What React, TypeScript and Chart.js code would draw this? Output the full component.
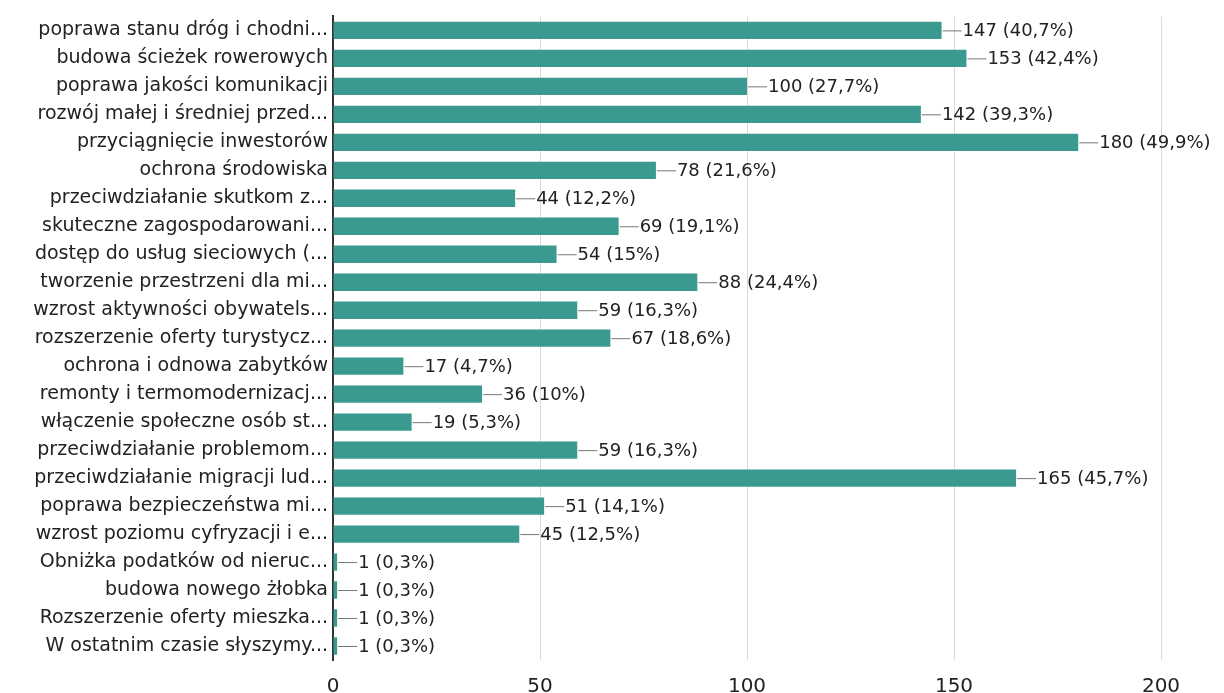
import React, { useEffect, useRef } from "react";
import { Chart, registerables } from "chart.js";

Chart.register(...registerables);

const categories: string[] = [
  "poprawa stanu dróg i chodni...",
  "budowa ścieżek rowerowych",
  "poprawa jakości komunikacji",
  "rozwój małej i średniej przed...",
  "przyciągnięcie inwestorów",
  "ochrona środowiska",
  "przeciwdziałanie skutkom z...",
  "skuteczne zagospodarowani...",
  "dostęp do usług sieciowych (...",
  "tworzenie przestrzeni dla mi...",
  "wzrost aktywności obywatels...",
  "rozszerzenie oferty turystycz...",
  "ochrona i odnowa zabytków",
  "remonty i termomodernizacj...",
  "włączenie społeczne osób st...",
  "przeciwdziałanie problemom...",
  "przeciwdziałanie migracji lud...",
  "poprawa bezpieczeństwa mi...",
  "wzrost poziomu cyfryzacji i e...",
  "Obniżka podatków od nieruc...",
  "budowa nowego żłobka",
  "Rozszerzenie oferty mieszka...",
  "W ostatnim czasie słyszymy...",
];

const counts: number[] = [147, 153, 100, 142, 180, 78, 44, 69, 54, 88, 59, 67, 17, 36, 19, 59, 165, 51, 45, 1, 1, 1, 1];

const percents: number[] = [40.7, 42.4, 27.7, 39.3, 49.9, 21.6, 12.2, 19.1, 15, 24.4, 16.3, 18.6, 4.7, 10, 5.3, 16.3, 45.7, 14.1, 12.5, 0.3, 0.3, 0.3, 0.3];

const xTicks: number[] = [0, 50, 100, 150, 200];

const FONT = "'DejaVu Sans', sans-serif";

const labelPlugin = {
  id: "barLabels",
  afterDatasetsDraw(chart: any) {
    const ctx = chart.ctx;
    const meta = chart.getDatasetMeta(0);
    ctx.save();
    ctx.font = `18px ${FONT}`;
    ctx.textBaseline = "middle";
    ctx.textAlign = "left";
    meta.data.forEach((bar: any, i: number) => {
      const x = bar.x;
      const y = bar.y;
      ctx.strokeStyle = "#777";
      ctx.lineWidth = 1;
      ctx.beginPath();
      ctx.moveTo(x + 1, y + 0.5);
      ctx.lineTo(x + 20, y + 0.5);
      ctx.stroke();
      ctx.fillStyle = "#222";
      const pct = String(percents[i]).replace(".", ",");
      ctx.fillText(`${counts[i]} (${pct}%)`, x + 21, y + 1);
    });
    ctx.restore();
  },
};

export default function App() {
  const ref = useRef<HTMLCanvasElement | null>(null);

  useEffect(() => {
    document.body.style.margin = "0";
    const canvas = ref.current;
    if (!canvas) return;
    const chart = new Chart(canvas, {
      type: "bar",
      data: {
        labels: categories,
        datasets: [
          {
            data: counts,
            backgroundColor: "#3a9a90",
            borderWidth: 0,
            barPercentage: 0.62,
            categoryPercentage: 1,
          },
        ],
      },
      options: {
        indexAxis: "y",
        animation: false,
        responsive: false,
        maintainAspectRatio: false,
        layout: { padding: { top: 13, right: 63, bottom: 0, left: 0 } },
        plugins: {
          legend: { display: false },
          tooltip: { enabled: false },
        },
        scales: {
          x: {
            min: 0,
            max: 200,
            afterBuildTicks: (axis: any) => {
              axis.ticks = xTicks.map((v) => ({ value: v }));
            },
            afterFit: (axis: any) => {
              axis.height = 33;
            },
            grid: {
              color: "#dadada",
              lineWidth: 1,
              drawTicks: false,
            },
            border: { display: false },
            ticks: {
              padding: 15,
              color: "#222",
              font: { family: FONT, size: 20 },
            },
          },
          y: {
            afterFit: (axis: any) => {
              axis.width = 333;
            },
            grid: { display: false, drawTicks: false },
            border: { display: true, color: "#333", width: 2 },
            ticks: {
              padding: 5,
              color: "#222",
              autoSkip: false,
              font: { family: FONT, size: 19 },
            },
          },
        },
      },
      plugins: [labelPlugin],
    });
    return () => chart.destroy();
  }, []);

  return (
    <div style={{ width: 1224, height: 693, background: "#fff" }}>
      <canvas ref={ref} width={1224} height={693} style={{ display: "block" }} />
    </div>
  );
}
